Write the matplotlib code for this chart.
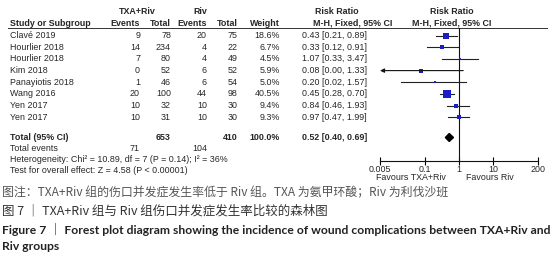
import matplotlib
matplotlib.use("Agg")
import matplotlib.pyplot as plt
from matplotlib.patches import Polygon

# ---------------- data ----------------
studies = ["Clavé 2019", "Hourlier 2018", "Hourlier 2018", "Kim 2018",
           "Panayiotis 2018", "Wang 2016", "Yen 2017", "Yen 2017"]
txa_events = [9, 14, 7, 0, 1, 20, 10, 10]
txa_total = [78, 234, 80, 52, 46, 100, 32, 31]
riv_events = [20, 4, 4, 6, 6, 44, 10, 10]
riv_total = [75, 22, 49, 52, 54, 98, 30, 30]
weights = [18.6, 6.7, 4.5, 5.9, 5.0, 40.5, 9.4, 9.3]
rr = [0.43, 0.33, 1.07, 0.08, 0.20, 0.45, 0.84, 0.97]
rr_low = [0.21, 0.12, 0.33, 0.0045, 0.02, 0.28, 0.46, 0.47]
rr_high = [0.89, 0.91, 3.47, 1.33, 1.57, 0.70, 1.93, 1.99]
rr_text = ["0.43 [0.21, 0.89]", "0.33 [0.12, 0.91]", "1.07 [0.33, 3.47]",
           "0.08 [0.00, 1.33]", "0.20 [0.02, 1.57]", "0.45 [0.28, 0.70]",
           "0.84 [0.46, 1.93]", "0.97 [0.47, 1.99]"]
total_txa = 653
total_riv = 410
total_weight = "100.0%"
total_events_txa = 71
total_events_riv = 104
total_rr = 0.52
total_low = 0.40
total_high = 0.69
total_text = "0.52 [0.40, 0.69]"
xticks = [0.005, 0.1, 1, 10, 200]
xtick_labels = ["0.005", "0.1", "1", "10", "200"]

W, H = 552, 263
fig = plt.figure(figsize=(W / 100, H / 100), dpi=100)
ax = fig.add_axes([0, 0, 1, 1])
ax.set_xlim(0, W)
ax.set_ylim(H, 0)
ax.axis("off")

FONT = "Liberation Sans"
FS = 6.4
TC = "#262626"

def t(x, y, s, ha="left", bold=False, **kw):
    ax.text(x, y, s, ha=ha, va="center", fontsize=kw.pop("fs", FS),
            family=kw.pop("family", FONT), color=kw.pop("color", TC),
            fontweight="bold" if bold else "normal", **kw)

# headers
t(137, 12, "TXA+Riv", ha="center", bold=True)
t(200, 12, "Riv", ha="center", bold=True)
t(337, 12, "Risk Ratio", ha="center", bold=True)
t(452, 12, "Risk Ratio", ha="center", bold=True)
t(10, 23, "Study or Subgroup", bold=True)
t(140, 23, "Events", ha="right", bold=True)
t(171, 23, "Total", ha="right", bold=True)
t(207, 23, "Events", ha="right", bold=True)
t(238, 23, "Total", ha="right", bold=True)
t(280, 23, "Weight", ha="right", bold=True)
t(313, 23, "M-H, Fixed, 95% CI", bold=True)
t(452, 23, "M-H, Fixed, 95% CI", ha="center", bold=True)
ax.plot([8, 547], [28, 28], color="#333333", lw=0.7)

row0, dy = 35.5, 11.7
rows_y = [row0 + i * dy for i in range(len(studies))]
for i, y in enumerate(rows_y):
    t(10, y, studies[i])
    t(140, y, str(txa_events[i]), ha="right")
    t(171, y, str(txa_total[i]), ha="right")
    t(207, y, str(riv_events[i]), ha="right")
    t(238, y, str(riv_total[i]), ha="right")
    t(280, y, f"{weights[i]:.1f}%", ha="right")
    t(302, y, rr_text[i])

ty = 137.5
t(10, ty, "Total (95% CI)", bold=True)
t(171, ty, str(total_txa), ha="right", bold=True)
t(238, ty, str(total_riv), ha="right", bold=True)
t(280, ty, total_weight, ha="right", bold=True)
t(302, ty, total_text, bold=True)
t(10, ty + 11, "Total events")
t(140, ty + 11, str(total_events_txa), ha="right")
t(207, ty + 11, str(total_events_riv), ha="right")
t(10, ty + 22, "Heterogeneity: Chi\u00b2 = 10.89, df = 7 (P = 0.14); I\u00b2 = 36%")
t(10, ty + 33, "Test for overall effect: Z = 4.58 (P < 0.00001)")

# ---------------- forest axes ----------------
x0, x1 = 380, 538
ytop, yax = 28, 161
fax = fig.add_axes([x0 / W, 1 - yax / H, (x1 - x0) / W, (yax - ytop) / H])
fax.set_xscale("log")
fax.set_xlim(xticks[0], xticks[-1])
fax.set_ylim(yax, ytop)
fax.patch.set_alpha(0)
for s in ["top", "right", "left"]:
    fax.spines[s].set_visible(False)
fax.spines["bottom"].set_linewidth(0.8)
fax.spines["bottom"].set_color("#111111")
fax.set_yticks([])
fax.set_xticks(xticks)
fax.set_xticklabels(xtick_labels)
fax.minorticks_off()
fax.tick_params(axis="x", direction="inout", length=6, width=0.8, pad=0,
                labelsize=FS, labelcolor=TC)
for lab in fax.get_xticklabels():
    lab.set_family(FONT)
fax.axvline(1, color="#111111", lw=0.8)

blue = "#1c1cc8"
for i, y in enumerate(rows_y):
    lo = rr_low[i]
    if lo < xticks[0]:
        fax.annotate("", xy=(xticks[0], y), xytext=(rr_high[i], y),
                     arrowprops=dict(arrowstyle="-|>", color="#111111", lw=0.8,
                                     mutation_scale=6, shrinkA=0, shrinkB=0))
    else:
        fax.plot([lo, rr_high[i]], [y, y], color="#222222", lw=0.8)
    side = 1.25 * weights[i] ** 0.5 * 0.72
    fax.plot(rr[i], y, marker="s", ms=side, color=blue, mec=blue, mew=0)

dia = Polygon([[total_low, ty], [total_rr, ty - 4], [total_high, ty], [total_rr, ty + 4]],
              closed=True, color="black")
fax.add_patch(dia)

t(446, 178, "Favours TXA+Riv", ha="right")
t(466, 178, "Favours Riv")

# ---------------- captions ----------------
cjk = ["Noto Sans CJK SC", "DejaVu Sans"]
ax.text(2, 193, "图注：TXA+Riv 组的伤口并发症发生率低于 Riv 组。TXA 为氨甲环酸；Riv 为利伐沙班",
        ha="left", va="center", fontsize=8.6, family=cjk, color="#555555")
ax.text(2, 211, "图 7 ｜ TXA+Riv 组与 Riv 组伤口并发症发生率比较的森林图",
        ha="left", va="center", fontsize=9.0, family=cjk, color="#333333")
ax.text(2, 229, "Figure 7 ｜ Forest plot diagram showing the incidence of wound complications between TXA+Riv and",
        ha="left", va="center", fontsize=8.7, family=["Lato", "Noto Sans CJK SC"], fontweight="bold", color="#222222")
ax.text(2, 246, "Riv groups",
        ha="left", va="center", fontsize=8.7, family=["Lato", "Noto Sans CJK SC"], fontweight="bold", color="#222222")

fig.savefig("out.png", dpi=100)
